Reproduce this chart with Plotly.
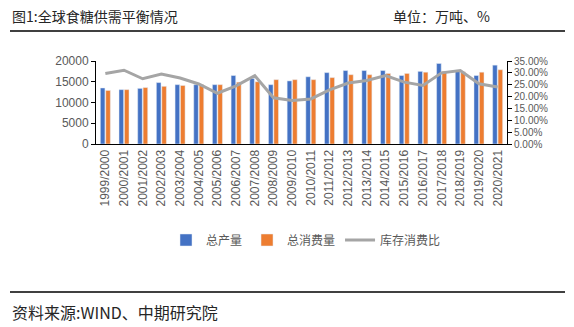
import plotly.graph_objects as go

categories = ["1999/2000", "2000/2001", "2001/2002", "2002/2003", "2003/2004", "2004/2005",
              "2005/2006", "2006/2007", "2007/2008", "2008/2009", "2009/2010", "2010/2011",
              "2011/2012", "2012/2013", "2013/2014", "2014/2015", "2015/2016", "2016/2017",
              "2017/2018", "2018/2019", "2019/2020", "2020/2021"]
production = [13500, 13100, 13400, 14800, 14300, 14300, 14300, 16500, 15800, 14300, 15200, 16200,
              17200, 17700, 17700, 17700, 16500, 17500, 19400, 17800, 16500, 19000]
consumption = [12900, 13100, 13600, 13900, 14100, 14300, 14300, 14900, 15000, 15500, 15500, 15500,
               16000, 16700, 16700, 17000, 17000, 17300, 17500, 17400, 17300, 17900]
stock_ratio = [0.297, 0.311, 0.275, 0.295, 0.278, 0.253, 0.214, 0.245, 0.288, 0.195, 0.183, 0.190,
               0.228, 0.257, 0.268, 0.289, 0.261, 0.247, 0.300, 0.310, 0.254, 0.240]
left_ticks = [0, 5000, 10000, 15000, 20000]
right_ticks = [0, 0.05, 0.10, 0.15, 0.20, 0.25, 0.30, 0.35]

GREY = "#595959"
DARK = "#262626"
FONT = "Noto Sans CJK SC"
NUMFONT = "Liberation Sans"

fig = go.Figure()
fig.add_trace(go.Bar(x=categories, y=production, name="总产量", marker_color="#4472C4"))
fig.add_trace(go.Bar(x=categories, y=consumption, name="总消费量", marker_color="#ED7D31"))
fig.add_trace(go.Scatter(x=categories, y=stock_ratio, name="库存消费比", yaxis="y2",
                         mode="lines", line=dict(color="#A5A5A5", width=3)))

L, R, T, B = 96, 67, 61, 183
W, H = 574, 327
pw, ph = W - L - R, H - T - B


def px(x):
    return (x - L) / pw


def py(y):
    return (H - B - y) / ph


fig.update_layout(
    width=W, height=H,
    margin=dict(l=L, r=R, t=T, b=B),
    paper_bgcolor="white", plot_bgcolor="white",
    font=dict(family=FONT, color=GREY, size=12),
    barmode="group", bargap=0.42, bargroupgap=0.15,
    showlegend=True,
    legend=dict(orientation="h", x=px(306), y=py(240), xanchor="center", yanchor="middle",
                font=dict(size=12, color=GREY), itemwidth=30, tracegroupgap=0),
    xaxis=dict(type="category", tickangle=-90, showline=True, linecolor="black", linewidth=1,
               ticks="", showgrid=False, tickfont=dict(size=12, color=GREY, family=NUMFONT)),
    yaxis=dict(range=[0, 20000], tickvals=left_ticks, tickformat="d", showgrid=False,
               showline=True, linecolor="black", linewidth=1, ticks="outside", ticklen=4,
               tickcolor="black", tickfont=dict(size=12, color=GREY, family=NUMFONT)),
    yaxis2=dict(range=[0, 0.35], tickvals=right_ticks, tickformat=".2%", overlaying="y",
                side="right", showgrid=False, showline=True, linecolor="black", linewidth=1,
                ticks="outside", ticklen=4, tickcolor="black",
                tickfont=dict(size=10, color=GREY, family=NUMFONT)),
    annotations=[
        dict(text="图1:全球食糖供需平衡情况", xref="paper", yref="paper", x=px(10), y=py(16),
             xanchor="left", yanchor="middle", showarrow=False,
             font=dict(size=14, color=DARK, family=FONT)),
        dict(text="单位：万吨、%", xref="paper", yref="paper", x=px(492), y=py(16),
             xanchor="right", yanchor="middle", showarrow=False,
             font=dict(size=14, color=DARK, family=FONT)),
        dict(text="资料来源:WIND、中期研究院", xref="paper", yref="paper", x=px(10), y=py(312),
             xanchor="left", yanchor="middle", showarrow=False,
             font=dict(size=16, color=DARK, family=FONT)),
    ],
    shapes=[
        dict(type="line", xref="paper", yref="paper", x0=px(10), x1=px(565), y0=py(31), y1=py(31),
             line=dict(color="black", width=1.5)),
        dict(type="line", xref="paper", yref="paper", x0=px(10), x1=px(565), y0=py(292), y1=py(292),
             line=dict(color="black", width=1.5)),
    ],
)

fig.write_html("out.html")
